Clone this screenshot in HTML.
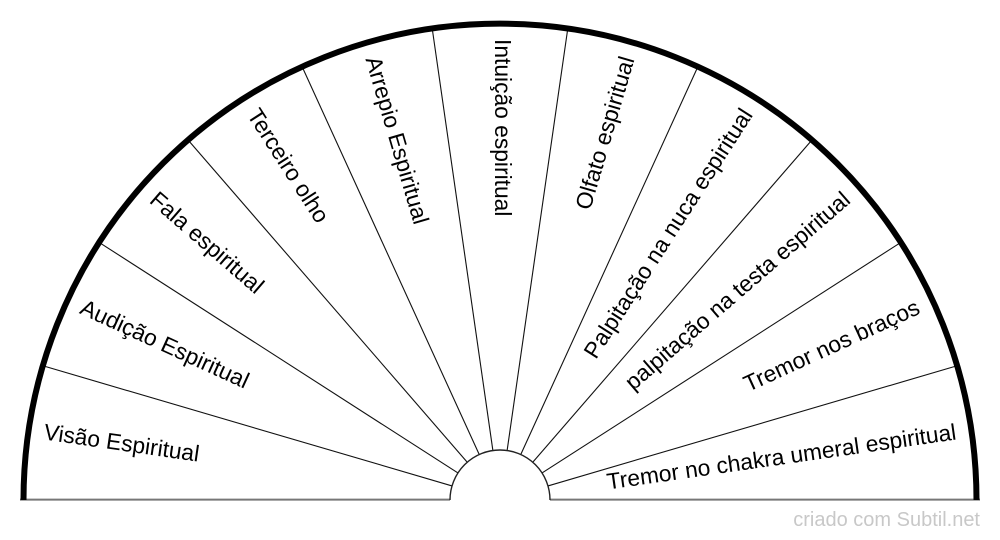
<!DOCTYPE html>
<html>
<head>
<meta charset="utf-8">
<style>
  html, body { margin: 0; padding: 0; background: #fff; }
  svg { display: block; }
  text { font-family: "Liberation Sans", Arial, sans-serif; font-size: 22.8px; fill: #000; }
</style>
</head>
<body>
<svg width="1000" height="540" viewBox="0 0 1000 540" xmlns="http://www.w3.org/2000/svg">
  <rect x="0" y="0" width="1000" height="540" fill="#fff"/>

  <!-- baseline -->
  <line x1="20" y1="499.6" x2="450" y2="499.6" stroke="#777" stroke-width="2"/>
  <line x1="550" y1="499.6" x2="980" y2="499.6" stroke="#777" stroke-width="2"/>

  <!-- radial lines -->
  <g transform="translate(500,500)" stroke="#111" stroke-width="1.1">
    <line x1="-50" y1="0" x2="-476" y2="0" transform="rotate(16.3636)"/>
    <line x1="-50" y1="0" x2="-476" y2="0" transform="rotate(32.7273)"/>
    <line x1="-50" y1="0" x2="-476" y2="0" transform="rotate(49.0909)"/>
    <line x1="-50" y1="0" x2="-476" y2="0" transform="rotate(65.4545)"/>
    <line x1="-50" y1="0" x2="-476" y2="0" transform="rotate(81.8182)"/>
    <line x1="-50" y1="0" x2="-476" y2="0" transform="rotate(98.1818)"/>
    <line x1="-50" y1="0" x2="-476" y2="0" transform="rotate(114.5455)"/>
    <line x1="-50" y1="0" x2="-476" y2="0" transform="rotate(130.9091)"/>
    <line x1="-50" y1="0" x2="-476" y2="0" transform="rotate(147.2727)"/>
    <line x1="-50" y1="0" x2="-476" y2="0" transform="rotate(163.6364)"/>
  </g>

  <!-- inner semicircle -->
  <path d="M450,500 A50,50 0 0 1 550,500" fill="none" stroke="#222" stroke-width="1.4"/>

  <!-- outer arc -->
  <path d="M23.5,500 A476.5,476.5 0 0 1 976.5,500" fill="none" stroke="#000" stroke-width="6"/>

  <!-- labels -->
  <g transform="translate(500,500)">
    <text transform="rotate(8.1818)" x="-461" y="5" text-anchor="start">Visão Espiritual</text>
    <text transform="rotate(24.5455)" x="-461" y="5" text-anchor="start">Audição Espiritual</text>
    <text transform="rotate(40.9091)" x="-461" y="5" text-anchor="start">Fala espiritual</text>
    <text transform="rotate(57.2727)" x="-461" y="5" text-anchor="start">Terceiro olho</text>
    <text transform="rotate(73.6364)" x="-461" y="5" text-anchor="start">Arrepio Espiritual</text>
    <text transform="rotate(90)" x="-461" y="5" text-anchor="start">Intuição espiritual</text>
    <text transform="rotate(-73.6364)" x="461" y="5" text-anchor="end">Olfato espiritual</text>
    <text transform="rotate(-57.2727)" x="461" y="5" text-anchor="end">Palpitação na nuca espiritual</text>
    <text transform="rotate(-40.9091)" x="461" y="5" text-anchor="end">palpitação na testa espiritual</text>
    <text transform="rotate(-24.5455)" x="461" y="5" text-anchor="end">Tremor nos braços</text>
    <text transform="rotate(-8.1818)" x="461" y="5" text-anchor="end">Tremor no chakra umeral espiritual</text>
  </g>

  <!-- watermark -->
  <text x="980" y="526" text-anchor="end" style="font-size:20px; fill:#c8c8c8;">criado com Subtil.net</text>
</svg>
</body>
</html>
